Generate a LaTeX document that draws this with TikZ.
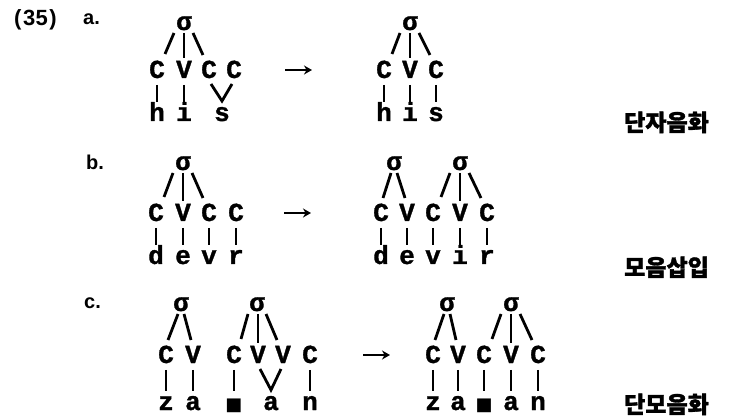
\documentclass[tikz,border=0pt]{standalone}
\usepackage{fontspec}
\usetikzlibrary{arrows.meta}
\newfontfamily\treefam{Liberation Mono}[FakeBold=1.2]
\newfontfamily\labfam{Liberation Sans}
\newfontfamily\korfam{Noto Sans CJK KR}[FakeBold=1.5]
\newfontfamily\sqfam{DejaVu Sans}
\newcommand\treefont{\treefam\bfseries\fontsize{26}{26}\selectfont}
\newcommand\labfont{\labfam\bfseries\fontsize{20}{20}\selectfont}
\newcommand\numfont{\labfam\bfseries\fontsize{22}{22}\selectfont}
\newcommand\korfont{\korfam\bfseries\fontsize{23}{23}\selectfont}
\tikzset{
  lt/.style={font=\treefont, inner sep=0pt, anchor=base},
  sq/.style={font=\sqfam\fontsize{18}{18}\selectfont, inner sep=0pt, anchor=base},
  br/.style={line width=2.8pt},
  arr/.style={line width=2.6pt, -{Stealth[length=8pt,width=9pt]}},
  lab/.style={font=\labfont, inner sep=0pt, anchor=base west},
  kl/.style={font=\korfont, inner sep=0pt, anchor=base west},
}
\begin{document}
\begin{tikzpicture}[x=1pt,y=-1pt]
\useasboundingbox (0,0) rectangle (736,419);
% labels
\node[lab, font=\numfont] (num) at (14,26) {(\kern1.5pt 3\kern0.5pt5\kern1.5pt)};
\node[lab] (la) at (83,25) {a.};
\node[lab] (lb) at (86,170) {b.};
\node[lab] (lc) at (84,309) {c.};
\node[kl] (ka) at (624,131) {단자음화};
\node[kl] (kb) at (624,276) {모음삽입};
\node[kl] (kc) at (624,413) {단모음화};

% ---------- a left
\node[lt] (aLs) at (184,30) {σ};
\node[lt] (aLc1) at (157,78) {C};
\node[lt] (aLv) at (184,78) {V};
\node[lt] (aLc2) at (209,78) {C};
\node[lt] (aLc3) at (234,78) {C};
\node[lt] (aLh) at (157,121) {h};
\node[lt] (aLi) at (184,121) {i};
\node[lt] (aLx) at (222,121) {s};
\draw[br] ([shift={(-10,3)}]aLs.base) -- ([shift={(8,-24)}]aLc1.base);
\draw[br] ([shift={(0,3)}]aLs.base) -- ([shift={(0,-20)}]aLv.base);
\draw[br] ([shift={(9,3)}]aLs.base) -- ([shift={(-6,-23)}]aLc2.base);
\draw[br] ([shift={(0,7)}]aLc1.base) -- ([shift={(0,-19)}]aLh.base);
\draw[br] ([shift={(0,7)}]aLv.base) -- ([shift={(0,-19)}]aLi.base);
\draw[br] ([shift={(2,6)}]aLc2.base) -- ([shift={(0,-20)}]aLx.base) -- ([shift={(-2,6)}]aLc3.base);
\coordinate (arA1) at (285,70);
\coordinate (arA2) at (312,70);
\draw[arr] (arA1) -- (arA2);
% ---------- a right
\node[lt] (aRs) at (410,30) {σ};
\node[lt] (aRc1) at (384,78) {C};
\node[lt] (aRv) at (410,78) {V};
\node[lt] (aRc2) at (436,78) {C};
\node[lt] (aRh) at (384,121) {h};
\node[lt] (aRi) at (410,121) {i};
\node[lt] (aRx) at (436,121) {s};
\draw[br] ([shift={(-10,3)}]aRs.base) -- ([shift={(8,-24)}]aRc1.base);
\draw[br] ([shift={(0,3)}]aRs.base) -- ([shift={(0,-20)}]aRv.base);
\draw[br] ([shift={(9,3)}]aRs.base) -- ([shift={(-6,-23)}]aRc2.base);
\draw[br] ([shift={(0,7)}]aRc1.base) -- ([shift={(0,-19)}]aRh.base);
\draw[br] ([shift={(0,7)}]aRv.base) -- ([shift={(0,-19)}]aRi.base);
\draw[br] ([shift={(0,7)}]aRc2.base) -- ([shift={(0,-19)}]aRx.base);

% ---------- b left
\node[lt] (bLs) at (183,170) {σ};
\node[lt] (bLc1) at (156,221) {C};
\node[lt] (bLv) at (183,221) {V};
\node[lt] (bLc2) at (209,221) {C};
\node[lt] (bLc3) at (236,221) {C};
\node[lt] (bLd) at (156,264) {d};
\node[lt] (bLe) at (183,264) {e};
\node[lt] (bLw) at (209,264) {v};
\node[lt] (bLr) at (236,264) {r};
\draw[br] ([shift={(-10,3)}]bLs.base) -- ([shift={(8,-24)}]bLc1.base);
\draw[br] ([shift={(0,3)}]bLs.base) -- ([shift={(0,-20)}]bLv.base);
\draw[br] ([shift={(9,3)}]bLs.base) -- ([shift={(-6,-23)}]bLc2.base);
\draw[br] ([shift={(0,7)}]bLc1.base) -- ([shift={(0,-19)}]bLd.base);
\draw[br] ([shift={(0,7)}]bLv.base) -- ([shift={(0,-19)}]bLe.base);
\draw[br] ([shift={(0,7)}]bLc2.base) -- ([shift={(0,-19)}]bLw.base);
\draw[br] ([shift={(0,7)}]bLc3.base) -- ([shift={(0,-19)}]bLr.base);
\coordinate (arB1) at (284,213);
\coordinate (arB2) at (311,213);
\draw[arr] (arB1) -- (arB2);
% ---------- b right
\node[lt] (bRs1) at (394,170) {σ};
\node[lt] (bRs2) at (460,170) {σ};
\node[lt] (bRc1) at (381,221) {C};
\node[lt] (bRv1) at (407,221) {V};
\node[lt] (bRc2) at (433,221) {C};
\node[lt] (bRv2) at (460,221) {V};
\node[lt] (bRc3) at (487,221) {C};
\node[lt] (bRd) at (381,264) {d};
\node[lt] (bRe) at (407,264) {e};
\node[lt] (bRw) at (433,264) {v};
\node[lt] (bRi) at (460,264) {i};
\node[lt] (bRr) at (487,264) {r};
\draw[br] ([shift={(-3,3)}]bRs1.base) -- ([shift={(2,-23)}]bRc1.base);
\draw[br] ([shift={(3,3)}]bRs1.base) -- ([shift={(-2,-23)}]bRv1.base);
\draw[br] ([shift={(-10,3)}]bRs2.base) -- ([shift={(8,-24)}]bRc2.base);
\draw[br] ([shift={(0,3)}]bRs2.base) -- ([shift={(0,-20)}]bRv2.base);
\draw[br] ([shift={(9,3)}]bRs2.base) -- ([shift={(-6,-23)}]bRc3.base);
\draw[br] ([shift={(0,7)}]bRc1.base) -- ([shift={(0,-19)}]bRd.base);
\draw[br] ([shift={(0,7)}]bRv1.base) -- ([shift={(0,-19)}]bRe.base);
\draw[br] ([shift={(0,7)}]bRc2.base) -- ([shift={(0,-19)}]bRw.base);
\draw[br] ([shift={(0,7)}]bRv2.base) -- ([shift={(0,-19)}]bRi.base);
\draw[br] ([shift={(0,7)}]bRc3.base) -- ([shift={(0,-19)}]bRr.base);

% ---------- c left
\node[lt] (cLs1) at (181,311) {σ};
\node[lt] (cLs2) at (257,311) {σ};
\node[lt] (cLc1) at (166,363) {C};
\node[lt] (cLv1) at (193,363) {V};
\node[lt] (cLc2) at (234,363) {C};
\node[lt] (cLv2) at (258,363) {V};
\node[lt] (cLv3) at (283,363) {V};
\node[lt] (cLc3) at (310,363) {C};
\node[lt] (cLz) at (166,410) {z};
\node[lt] (cLa1) at (193,410) {a};
\node[sq] (cLm) at (234,410) {■};
\node[lt] (cLa2) at (271,410) {a};
\node[lt] (cLn) at (310,410) {n};
\draw[br] ([shift={(-3,3)}]cLs1.base) -- ([shift={(2,-23)}]cLc1.base);
\draw[br] ([shift={(3,3)}]cLs1.base) -- ([shift={(-2,-23)}]cLv1.base);
\draw[br] ([shift={(-9,3)}]cLs2.base) -- ([shift={(7,-24)}]cLc2.base);
\draw[br] ([shift={(1,3)}]cLs2.base) -- ([shift={(0,-20)}]cLv2.base);
\draw[br] ([shift={(9,3)}]cLs2.base) -- ([shift={(-6,-23)}]cLv3.base);
\draw[br] ([shift={(0,7)}]cLc1.base) -- ([shift={(0,-19)}]cLz.base);
\draw[br] ([shift={(0,7)}]cLv1.base) -- ([shift={(0,-19)}]cLa1.base);
\draw[br] ([shift={(0,7)}]cLc2.base) -- ([shift={(0,-19)}]cLm.base);
\draw[br] ([shift={(2,6)}]cLv2.base) -- ([shift={(0,-20)}]cLa2.base) -- ([shift={(-2,6)}]cLv3.base);
\draw[br] ([shift={(0,7)}]cLc3.base) -- ([shift={(0,-19)}]cLn.base);
\coordinate (arC1) at (363,355);
\coordinate (arC2) at (390,355);
\draw[arr] (arC1) -- (arC2);
% ---------- c right
\node[lt] (cRs1) at (447,311) {σ};
\node[lt] (cRs2) at (511,311) {σ};
\node[lt] (cRc1) at (433,363) {C};
\node[lt] (cRv1) at (458,363) {V};
\node[lt] (cRc2) at (484,363) {C};
\node[lt] (cRv2) at (511,363) {V};
\node[lt] (cRc3) at (538,363) {C};
\node[lt] (cRz) at (433,410) {z};
\node[lt] (cRa1) at (458,410) {a};
\node[sq] (cRm) at (484,410) {■};
\node[lt] (cRa2) at (511,410) {a};
\node[lt] (cRn) at (538,410) {n};
\draw[br] ([shift={(-3,3)}]cRs1.base) -- ([shift={(2,-23)}]cRc1.base);
\draw[br] ([shift={(3,3)}]cRs1.base) -- ([shift={(-2,-23)}]cRv1.base);
\draw[br] ([shift={(-10,3)}]cRs2.base) -- ([shift={(8,-24)}]cRc2.base);
\draw[br] ([shift={(0,3)}]cRs2.base) -- ([shift={(0,-20)}]cRv2.base);
\draw[br] ([shift={(9,3)}]cRs2.base) -- ([shift={(-6,-23)}]cRc3.base);
\draw[br] ([shift={(0,7)}]cRc1.base) -- ([shift={(0,-19)}]cRz.base);
\draw[br] ([shift={(0,7)}]cRv1.base) -- ([shift={(0,-19)}]cRa1.base);
\draw[br] ([shift={(0,7)}]cRc2.base) -- ([shift={(0,-19)}]cRm.base);
\draw[br] ([shift={(0,7)}]cRv2.base) -- ([shift={(0,-19)}]cRa2.base);
\draw[br] ([shift={(0,7)}]cRc3.base) -- ([shift={(0,-19)}]cRn.base);
\end{tikzpicture}
\end{document}
